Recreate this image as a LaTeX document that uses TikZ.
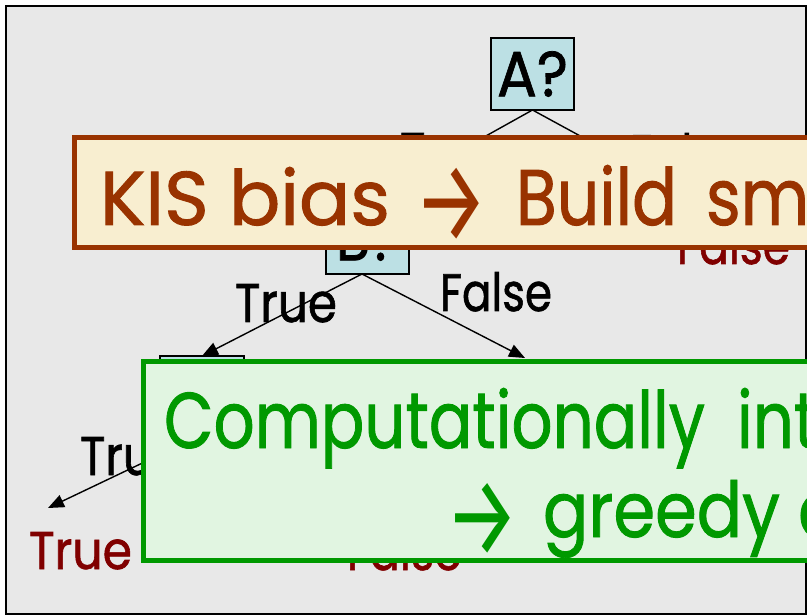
\documentclass[tikz,border=0pt]{standalone}
\usepackage{fontspec}
\usepackage{graphicx}
\setmainfont{Poppins}[FakeBold=1.2]
\newfontfamily\arrowfont{Fira Sans}
\usetikzlibrary{arrows.meta}

\definecolor{panelgray}{HTML}{E8E8E8}
\definecolor{nodeblue}{HTML}{BCE0E4}
\definecolor{rust}{HTML}{993300}
\definecolor{cream}{HTML}{F8EED0}
\definecolor{leafred}{HTML}{800000}
\definecolor{grassgreen}{HTML}{009900}
\definecolor{mint}{HTML}{E1F5E1}

% scale a piece of text to a given width and height (in pt)
\newsavebox\fitbox
\newcommand\fitset[3]{\sbox\fitbox{#3}%
  \xdef\fitsx{\fpeval{(#1)/(\the\wd\fitbox)}}%
  \xdef\fitsy{\fpeval{(#2)/(\the\ht\fitbox)}}}
\newcommand\fitted[3]{\fitset{#1}{#2}{#3}\scalebox{\fitsx}[\fitsy]{#3}}
% reuse the factors of the previous piece
\newcommand\samefit[1]{\scalebox{\fitsx}[\fitsy]{#1}}

\begin{document}
\begin{tikzpicture}[x=1pt,y=-1pt,
  qbox/.style={draw=black,line width=1.4pt,fill=nodeblue,
    minimum width=83pt,minimum height=72pt,inner sep=0pt,outer sep=0pt},
  txt/.style={inner sep=0pt,outer sep=0pt,anchor=base west},
  link/.style={line width=1.4pt,-{Triangle[length=16pt,width=13pt]}},
  banner/.style={anchor=north west,inner sep=0pt,outer sep=0pt,line width=5pt}]
\useasboundingbox (0,0) rectangle (807,615);
\clip (0,0) rectangle (807,615);

% slide panel
\node[draw=black,line width=2pt,fill=panelgray,anchor=north west,
  minimum width=799.5pt,minimum height=608pt,inner sep=0pt,outer sep=0pt] (panel) at (6,6) {};

% decision tree
\node[qbox] (A) at (532.5,74) {\raisebox{-3.5pt}{\fitted{71}{45}{A?}}};
\node[qbox] (B) at (367.5,238) {\raisebox{-3.5pt}{\fitted{63}{45}{B?}}};
\node[qbox,minimum width=84pt,minimum height=81pt] (C) at (202,396.5) {};

\coordinate (tipR) at (705,204);
\coordinate (tipD) at (525,358);
\coordinate (tipT) at (48,508);

\draw[link] (A.south) -- (B.north);
\draw[link] (A.south) -- (tipR);
\draw[link] ([xshift=-5.5pt]B.south) -- (C.north);
\draw[link] ([xshift=-5.5pt]B.south) -- (tipD);
\draw[link] ([xshift=-5pt]C.south) -- (tipT);

% branch labels
\node[txt] (aT) at (400,171) {\fitted{102}{38}{True}};
\node[txt] (aF) at (630,172) {\fitted{112}{39}{False}};
\node[txt] (bT) at (235,322) {\fitted{102}{38}{True}};
\node[txt] (bF) at (440,311) {\fitted{112}{39}{False}};
\node[txt] (cT) at (80,475) {\fitted{102}{38}{True}};

% leaves
\node[txt,text=leafred] (leafT) at (29,569) {\fitted{103}{37}{True}};
\node[txt,text=leafred] (leafF) at (347,570) {\fitted{115}{39}{False}};
\node[txt,text=leafred] (leafR) at (677,264) {\fitted{113}{39}{False}};

% first call-out
\node[banner,draw=rust,fill=cream,minimum width=825.5pt,minimum height=110pt] (kis) at (74.5,137.5) {};
\node[txt,text=rust] (kis1) at (100,225) {\fitted{290}{58}{KIS bias}};
\node[txt,text=rust] (kis2) at (414.6,241.3) {\arrowfont\fitted{74}{73.3}{→}};
\node[txt,text=rust] (kis3) at (516,225) {\fitted{161}{60}{Build}};
\node[txt,text=rust] (kis4) at (706,225) {\samefit{sma}};

% second call-out
\node[banner,draw=grassgreen,fill=mint,minimum width=756.5pt,minimum height=199pt] (comp) at (143.5,361.5) {};
\node[txt,text=grassgreen] (comp1) at (164,448) {\fitted{541}{60}{Computationally}};
\node[txt,text=grassgreen] (comp2) at (737,448) {\samefit{int}};
\node[txt,text=grassgreen] (comp3) at (445.6,555) {\arrowfont\fitted{74}{72}{→}};
\node[txt,text=grassgreen] (comp4) at (543,537) {\fitted{237}{57}{greedy}};
\node[txt,text=grassgreen] (comp5) at (798,537) {\samefit{a}};
\end{tikzpicture}
\end{document}
